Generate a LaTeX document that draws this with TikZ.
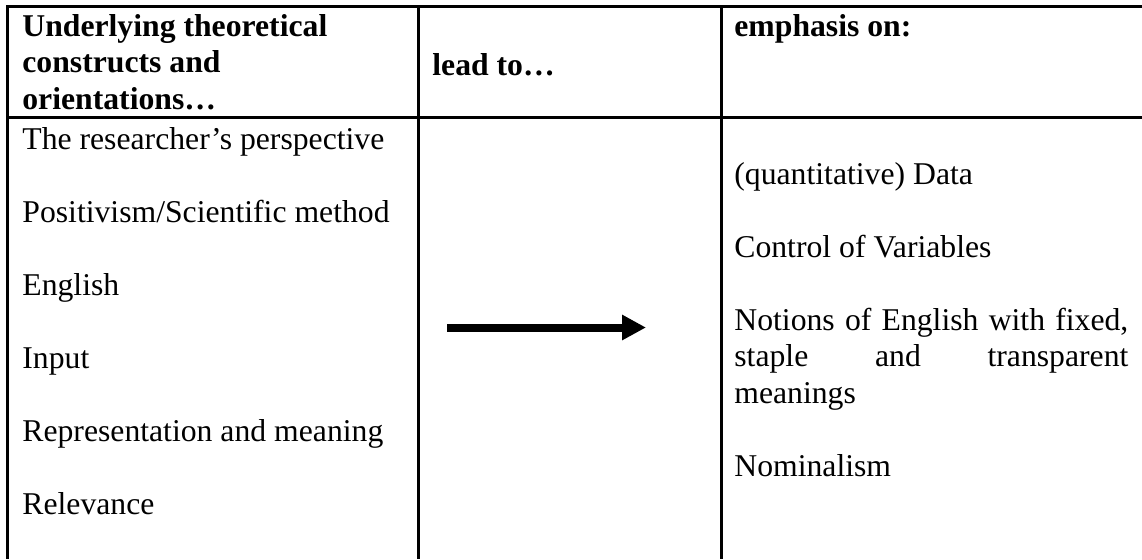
\documentclass[tikz,border=0pt]{standalone}
\usepackage{fontspec}
\setmainfont{Liberation Serif}
\usetikzlibrary{arrows.meta}
\begin{document}
\begin{tikzpicture}[x=0.5pt,y=-0.5pt,
  rule/.style={line width=1.5pt},
  cell/.style={anchor=base west, inner sep=0pt, font=\fontsize{15.85}{18.25}\selectfont},
  headcell/.style={cell, font=\fontsize{15.85}{18.25}\selectfont\bfseries},
  bigarrow/.style={line width=4pt, -{Triangle[length=12pt,width=12pt]}}]
\useasboundingbox (0,0) rectangle (1142,559);

% table rules
\draw[rule] (1142,6.5) -- (7.5,6.5) -- (7.5,559);
\draw[rule] (7.5,117.5) -- (1142,117.5);
\draw[rule] (418.5,6.5) -- (418.5,559);
\draw[rule] (721,6.5) -- (721,559);

% header row
\node[headcell] (h1a) at (22,36) {Underlying theoretical};
\node[headcell] (h1b) at (22,72.5) {constructs and};
\node[headcell] (h1c) at (22,109) {orientations…};
\node[headcell] (h2) at (432,75) {lead to…};
\node[headcell] (h3) at (734,36.5) {emphasis on:};

% left column
\node[cell] (l1) at (22,149) {The researcher’s perspective};
\node[cell] (l2) at (22,222) {Positivism/Scientific method};
\node[cell] (l3) at (22,295) {English};
\node[cell] (l4) at (22,368) {Input};
\node[cell] (l5) at (22,441) {Representation and meaning};
\node[cell] (l6) at (22,514) {Relevance};

% right column
\node[cell] (r1) at (734,184) {(quantitative) Data};
\node[cell] (r2) at (734,257) {Control of Variables};
\node[cell] (r3a) at (734,330) {\makebox[197pt][s]{Notions of English with fixed,}};
\node[cell] (r3b) at (734,366.5) {\makebox[197pt][s]{staple and transparent}};
\node[cell] (r3c) at (734,403) {meanings};
\node[cell] (r4) at (734,476) {Nominalism};

% arrow in the middle column
\coordinate (arrS) at (447,327.5);
\coordinate (arrE) at (646,327.5);
\draw[bigarrow] (arrS) -- (arrE);
\end{tikzpicture}
\end{document}
